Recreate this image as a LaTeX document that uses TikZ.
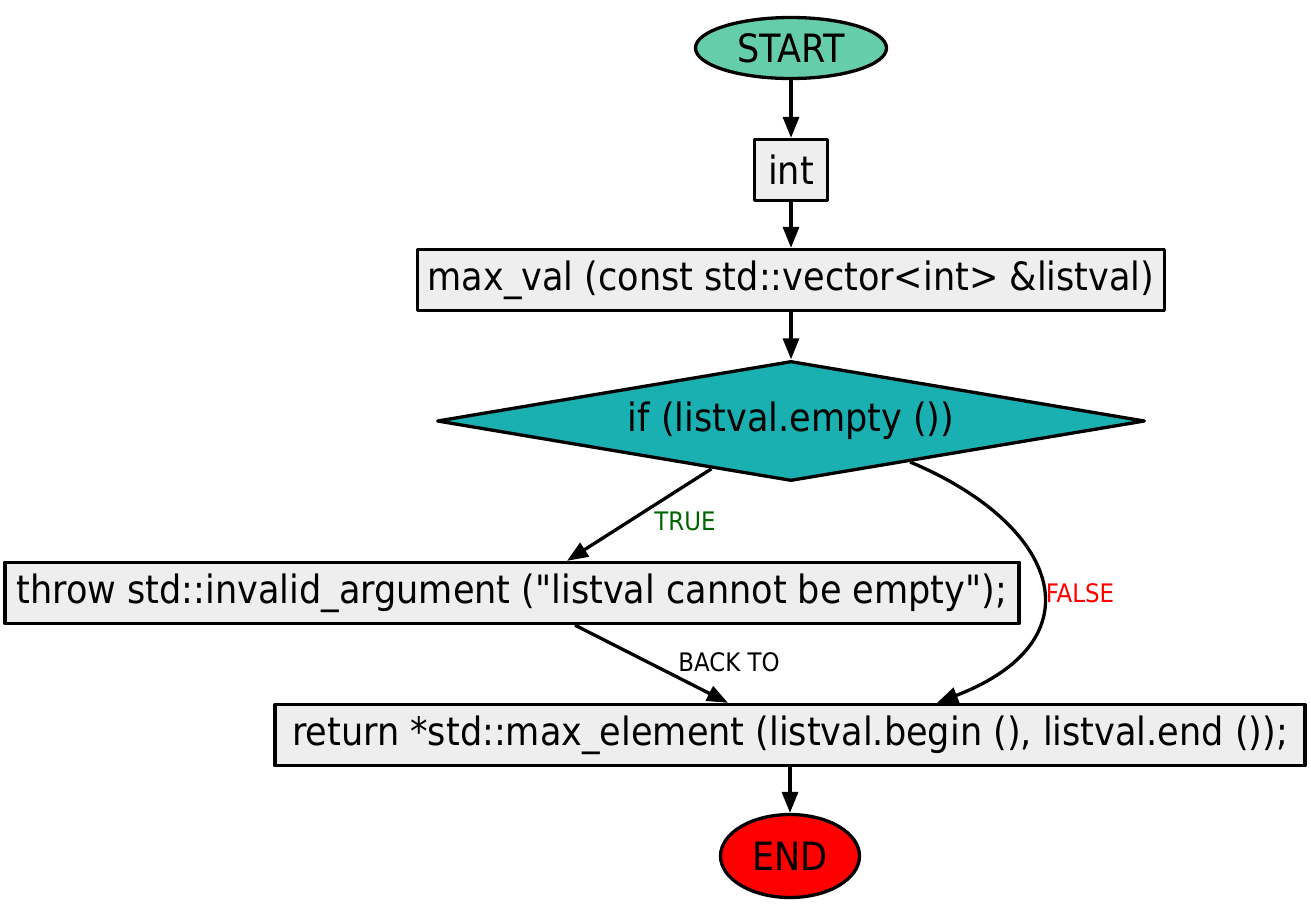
\documentclass[tikz,border=0pt]{standalone}
\usepackage{fontspec}
\setmainfont{DejaVu Sans Condensed}
\usetikzlibrary{shapes.geometric,arrows.meta,calc}
\definecolor{startgreen}{HTML}{66CDAA}
\definecolor{condteal}{HTML}{1AAFB0}
\definecolor{boxgray}{HTML}{EEEEEE}
\definecolor{truegreen}{HTML}{006400}
\begin{document}
\begin{tikzpicture}[x=1pt,y=-1pt,line width=3.3pt,line join=round,
  every node/.style={font=\fontsize{39}{45}\selectfont},
  term/.style={ellipse,draw,inner sep=0pt},
  box/.style={rectangle,draw,fill=boxgray,inner sep=0pt,minimum height=61pt},
  cond/.style={diamond,draw,fill=condteal,inner sep=0pt,aspect=5.9},
  flow/.style={-{Triangle[length=21pt,width=16pt]}},
  lbl/.style={font=\fontsize{25.5}{30}\selectfont,inner sep=0pt}]
  \useasboundingbox (0,0) rectangle (1311,906);
  % nodes
  \node[term,fill=startgreen,minimum width=191pt,minimum height=61pt] (start) at (791,48) {START};
  \node[box,minimum width=73pt] (rettype) at (791,170) {int};
  \node[box,minimum width=747pt] (func) at (791,280) {max\_val (const std::vector<int> \&listval)};
  \node[cond,minimum width=708pt,minimum height=120pt] (ifempty) at (791,421) {if (listval.empty ())};
  \node[box,minimum width=1014pt] (throwarg) at (512,593) {throw std::invalid\_argument (\textquotedbl listval cannot be empty\textquotedbl);};
  \node[box,minimum width=1030pt] (retmax) at (790,735) {return *std::max\_element (listval.begin (), listval.end ());};
  \node[term,fill=red,minimum width=139pt,minimum height=83pt] (finish) at (790,856) {END};
  % connectors
  \draw[flow] (start) -- (rettype);
  \draw[flow] (rettype) -- (func);
  \draw[flow] (func) -- (ifempty);
  \draw[flow] (ifempty.211) -- ($(throwarg.north)+(55,0)$);
  \draw[flow] ($(throwarg.south)+(63,0)$) -- ($(retmax.north)+(-62,0)$);
  \draw[flow] (ifempty.341) .. controls (1060,525) and (1100,640) .. ($(retmax.north)+(147,0)$);
  \draw[flow] (retmax) -- (finish);
  % edge labels
  \node[lbl,text=truegreen] (truelbl) at (685,521) {TRUE};
  \node[lbl] (backlbl) at (729,662) {BACK TO};
  \node[lbl,text=red] (falselbl) at (1080,593) {FALSE};
\end{tikzpicture}
\end{document}
